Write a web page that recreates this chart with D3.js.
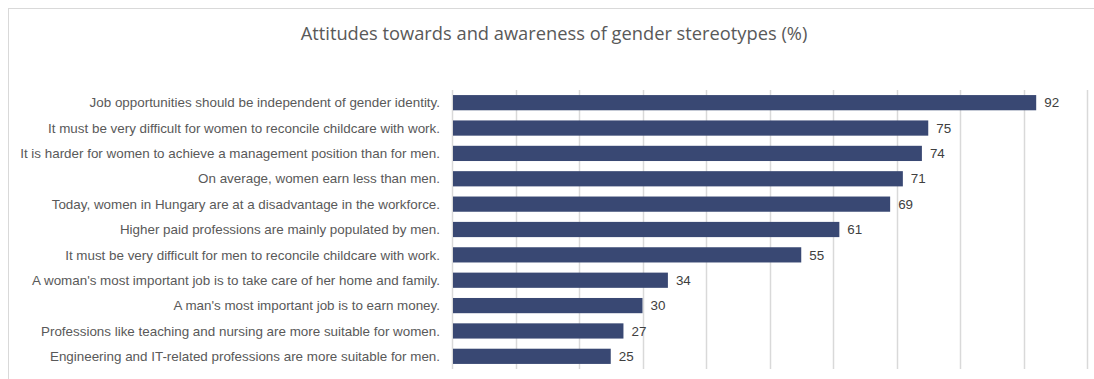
<!DOCTYPE html>
<html>
<head>
<meta charset="utf-8">
<script src="https://cdn.jsdelivr.net/npm/d3@7"></script>
<style>
  body { margin: 0; background: #fff; }
  .label { font-family: "Liberation Sans", Arial, sans-serif; font-size: 13.4px; fill: #595959; }
  .value { font-family: "Liberation Sans", Arial, sans-serif; font-size: 13.4px; fill: #404040; }
  .title { font-family: "Open Sans", "Noto Sans", sans-serif; font-size: 18.3px; fill: #595959; }
</style>
</head>
<body>
<svg id="chart" width="1094" height="379"></svg>
<script>
var statements = [
    "Job opportunities should be independent of gender identity.",
    "It must be very difficult for women to reconcile childcare with work.",
    "It is harder for women to achieve a management position than for men.",
    "On average, women earn less than men.",
    "Today, women in Hungary are at a disadvantage in the workforce.",
    "Higher paid professions are mainly populated by men.",
    "It must be very difficult for men to reconcile childcare with work.",
    "A woman's most important job is to take care of her home and family.",
    "A man's most important job is to earn money.",
    "Professions like teaching and nursing are more suitable for women.",
    "Engineering and IT-related professions are more suitable for men."
];
var shares = [92, 75, 74, 71, 69, 61, 55, 34, 30, 27, 25];
var gridTicks = [0, 10, 20, 30, 40, 50, 60, 70, 80, 90, 100];
var titleText = "Attitudes towards and awareness of gender stereotypes (%)";

var svg = d3.select("#chart")
    , margin = {top: 90, right: 7, bottom: 10, left: 452}
    , width = 1087 - margin.left
    , height = 369 - margin.top
    ;

// outer frame (cut off at right and bottom like the source)
svg.append("rect")
    .attr("x", 8.5)
    .attr("y", 8.5)
    .attr("width", 1200)
    .attr("height", 500)
    .attr("fill", "none")
    .attr("stroke", "#d9d9d9");

svg.append("text")
    .attr("class", "title")
    .attr("x", 554)
    .attr("y", 40)
    .attr("text-anchor", "middle")
    .text(titleText);

var g = svg.append("g").attr("transform", "translate(" + margin.left + "," + margin.top + ")");

var x = d3.scaleLinear().domain([0, 100]).range([0, width]);
var y = d3.scaleBand().domain(statements).range([0, height]).paddingInner(0.4).paddingOuter(0.2);

// vertical gridlines
g.append("g")
    .attr("class", "grid")
    .selectAll("line")
    .data(gridTicks)
    .enter().append("line")
    .attr("x1", function(d) { return Math.round(x(d)) + 0.5; })
    .attr("x2", function(d) { return Math.round(x(d)) + 0.5; })
    .attr("y1", 0)
    .attr("y2", height)
    .attr("stroke", "#d9d9d9")
    .attr("stroke-width", 1.5);

g.selectAll("rect.bar")
    .data(shares)
    .enter().append("rect")
    .attr("class", "bar")
    .attr("x", x(0) + 1)
    .attr("y", function(d, i) { return y(statements[i]); })
    .attr("width", function(d) { return x(d) - x(0) - 1; })
    .attr("height", y.bandwidth())
    .attr("fill", "#394873");

// category labels
g.selectAll("text.label")
    .data(statements)
    .enter().append("text")
    .attr("class", "label")
    .attr("x", -12)
    .attr("y", function(d) { return y(d) + y.bandwidth() / 2; })
    .attr("dy", "0.35em")
    .attr("text-anchor", "end")
    .text(function(d) { return d; });

// value labels
g.selectAll("text.value")
    .data(shares)
    .enter().append("text")
    .attr("class", "value")
    .attr("x", function(d) { return x(d) + 8; })
    .attr("y", function(d, i) { return y(statements[i]) + y.bandwidth() / 2; })
    .attr("dy", "0.35em")
    .text(function(d) { return d; });
</script>
</body>
</html>
